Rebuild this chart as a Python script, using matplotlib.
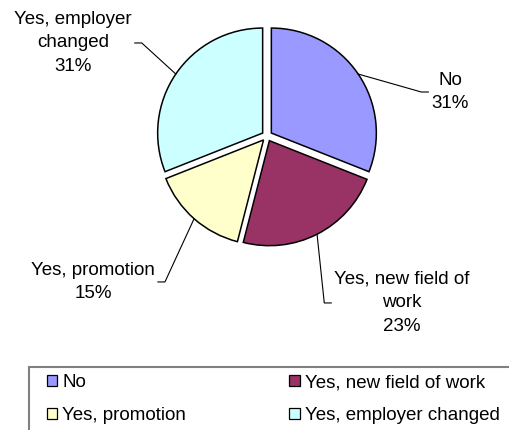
import matplotlib
matplotlib.use("Agg")
import matplotlib.pyplot as plt
import numpy as np
from matplotlib.patches import Patch, Rectangle

plt.rcParams["font.family"] = ["Liberation Sans", "DejaVu Sans"]

# ── data ──────────────────────────────────────────────────────────────────────
CATEGORIES = ["No", "Yes, new field of work", "Yes, promotion", "Yes, employer changed"]
SHARES = [31, 23, 15, 31]
COLORS = ["#9999FF", "#993366", "#FFFFCC", "#CCFFFF"]
SLICE_LABELS = ["No", "Yes, new field of\nwork", "Yes, promotion", "Yes, employer\nchanged"]

# label centres (data units, pie radius = 1)
LABEL_POS = [(1.743, 0.419), (1.286, -1.590), (-1.657, -1.390), (-1.848, 0.886)]

FONT = 13.5
W, H = 509, 430
CX, CY, R = 267, 136, 105      # pie centre / radius in pixels
EXPLODE = 0.05

fig = plt.figure(figsize=(W / 100, H / 100), dpi=100)
ax = fig.add_axes([0, 0, 1, 1])

wedges, _ = ax.pie(
    SHARES, colors=COLORS, startangle=90, counterclock=False,
    explode=[EXPLODE] * len(SHARES), radius=1,
    wedgeprops=dict(edgecolor="black", linewidth=1.1),
)
# pie() resets the limits, so fix the pixel scale afterwards
ax.set_aspect("auto")
ax.set_xlim(-CX / R, (W - CX) / R)
ax.set_ylim(-(H - CY) / R, CY / R)
ax.axis("off")

fig.canvas.draw()
renderer = fig.canvas.get_renderer()
inv = ax.transData.inverted()
tick = 7 / R  # short horizontal stub of the leader line

for w, lab, share, (tx, ty) in zip(wedges, SLICE_LABELS, SHARES, LABEL_POS):
    mid = np.deg2rad((w.theta1 + w.theta2) / 2)
    cx, cy = w.center
    sx, sy = cx + np.cos(mid), cy + np.sin(mid)
    txt = ax.text(tx, ty, f"{lab}\n{share}%", ha="center", va="center",
                  fontsize=FONT, linespacing=1.5)
    bb = txt.get_window_extent(renderer)
    (x0, _), (x1, _) = inv.transform([(bb.x0, bb.y0), (bb.x1, bb.y1)])
    if tx > 0:
        ex = x0 - 3 / R
        bx = ex - tick
    else:
        ex = x1 + 3 / R
        bx = ex + tick
    ax.plot([sx, bx, ex], [sy, ty, ty], color="black", lw=0.8)

# ── legend ────────────────────────────────────────────────────────────────────
handles = [Patch(facecolor=c, edgecolor="black", linewidth=0.9) for c in COLORS]
order = [0, 2, 1, 3]
fig.legend([handles[i] for i in order], [CATEGORIES[i] for i in order],
           ncol=2, loc="upper left", bbox_to_anchor=(47 / W, 1 - 374 / H),
           frameon=False, fontsize=FONT, borderpad=0, borderaxespad=0,
           handlelength=0.55, handleheight=0.55, handletextpad=0.27,
           columnspacing=5.5, labelspacing=0.87)
fig.add_artist(Rectangle((29 / W, -0.05), 1.2, 1 - 367 / H + 0.05,
                         transform=fig.transFigure, fill=False,
                         edgecolor="#808080", linewidth=1.5))

fig.savefig("out.png", dpi=100)
